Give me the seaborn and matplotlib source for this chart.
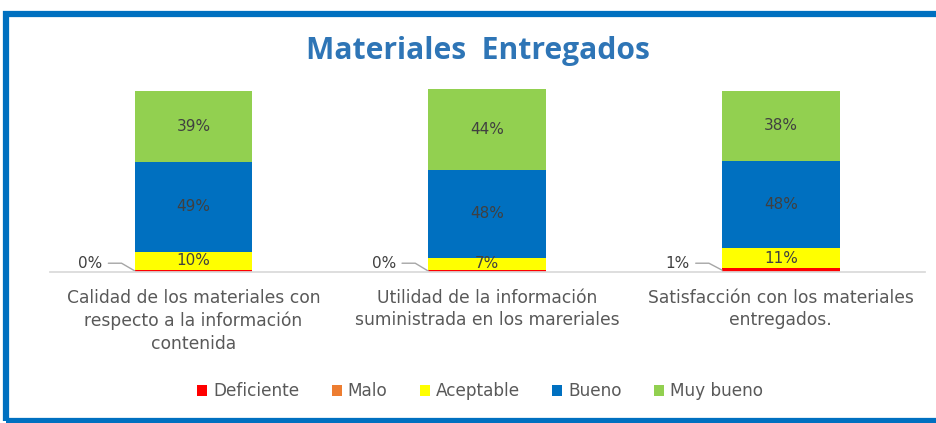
import matplotlib
matplotlib.use("Agg")
import matplotlib.pyplot as plt
from matplotlib.patches import Patch, Rectangle
import seaborn as sns
import numpy as np
import pandas as pd

categories = [
    "Calidad de los materiales con\nrespecto a la información\ncontenida",
    "Utilidad de la información\nsuministrada en los mareriales",
    "Satisfacción con los materiales\nentregados.",
]
series_names = ["Deficiente", "Malo", "Aceptable", "Bueno", "Muy bueno"]
deficiente = [1.2, 0.9, 2.0]
malo = [0.0, 0.0, 0.0]
aceptable = [10, 7, 11]
bueno = [49, 48, 48]
muy_bueno = [39, 44, 38]
labels_deficiente = ["0%", "0%", "1%"]
labels_aceptable = ["10%", "7%", "11%"]
labels_bueno = ["49%", "48%", "48%"]
labels_muy_bueno = ["39%", "44%", "38%"]

colors = ["#FF0000", "#ED7D31", "#FFFF00", "#0070C0", "#92D050"]
text_color = "#404040"
cat_color = "#595959"

sns.set_theme(style="white")
plt.rcParams["font.family"] = ["DejaVu Sans"]

fig = plt.figure(figsize=(9.36, 4.23), dpi=100)
ax = fig.add_axes([0.053, 0.357, 0.935, 0.432])

all_series = [deficiente, malo, aceptable, bueno, muy_bueno]
df = pd.DataFrame({"cat": categories})
bottom = np.zeros(len(categories))
for name, vals, col in zip(series_names, all_series, colors):
    df["val"] = vals
    sns.barplot(data=df, x="cat", y="val", bottom=bottom.copy(), color=col,
                width=0.4, ax=ax, saturation=1, linewidth=0, label=name)
    bottom += np.array(vals, dtype=float)

def seg_labels(vals, bottoms, labels):
    for i, (v, b, t) in enumerate(zip(vals, bottoms, labels)):
        ax.text(i, b + v / 2, t, ha="center", va="center", fontsize=11, color=text_color)

b0 = np.array(deficiente) + np.array(malo)
seg_labels(aceptable, b0, labels_aceptable)
b1 = b0 + np.array(aceptable)
seg_labels(bueno, b1, labels_bueno)
b2 = b1 + np.array(bueno)
seg_labels(muy_bueno, b2, labels_muy_bueno)

for i, (v, t) in enumerate(zip(deficiente, labels_deficiente)):
    ax.text(i - 0.31, 4.8, t, ha="right", va="center", fontsize=11, color=text_color)
    ax.plot([i - 0.29, i - 0.245, i - 0.2], [4.8, 4.8, v / 2], color="#A6A6A6", lw=1)

ax.set_xlim(-0.49, 2.49)
ax.set_ylim(0, 100)
ax.set_xlabel("")
ax.set_ylabel("")
ax.set_yticks([])
for s in ["top", "right", "left"]:
    ax.spines[s].set_visible(False)
ax.spines["bottom"].set_color("#D9D9D9")
ax.tick_params(axis="x", length=0, pad=12, labelsize=12.3, labelcolor=cat_color)
for lab in ax.get_xticklabels():
    lab.set_linespacing(1.33)
if ax.get_legend() is not None:
    ax.get_legend().remove()

fig.text(0.511, 0.88, "Materiales  Entregados", ha="center", va="center",
         fontsize=21.6, fontweight="bold", color="#2E75B6",
         family=["Open Sans", "DejaVu Sans"])

handles = [Patch(facecolor=c, edgecolor="none", label=n) for n, c in zip(series_names, colors)]
fig.legend(handles=handles, loc="center", bbox_to_anchor=(0.513, 0.075), ncol=5,
           frameon=False, handlelength=0.6, handleheight=0.6, handletextpad=0.35,
           columnspacing=1.9, fontsize=12.2, labelcolor=cat_color)

fig.patches.append(Rectangle((6 / 936, 2 / 423), 1.05, 1 - 16 / 423,
                             transform=fig.transFigure, fill=False,
                             edgecolor="#0070C0", lw=4.5, zorder=10))

fig.savefig("out.png", dpi=100)
